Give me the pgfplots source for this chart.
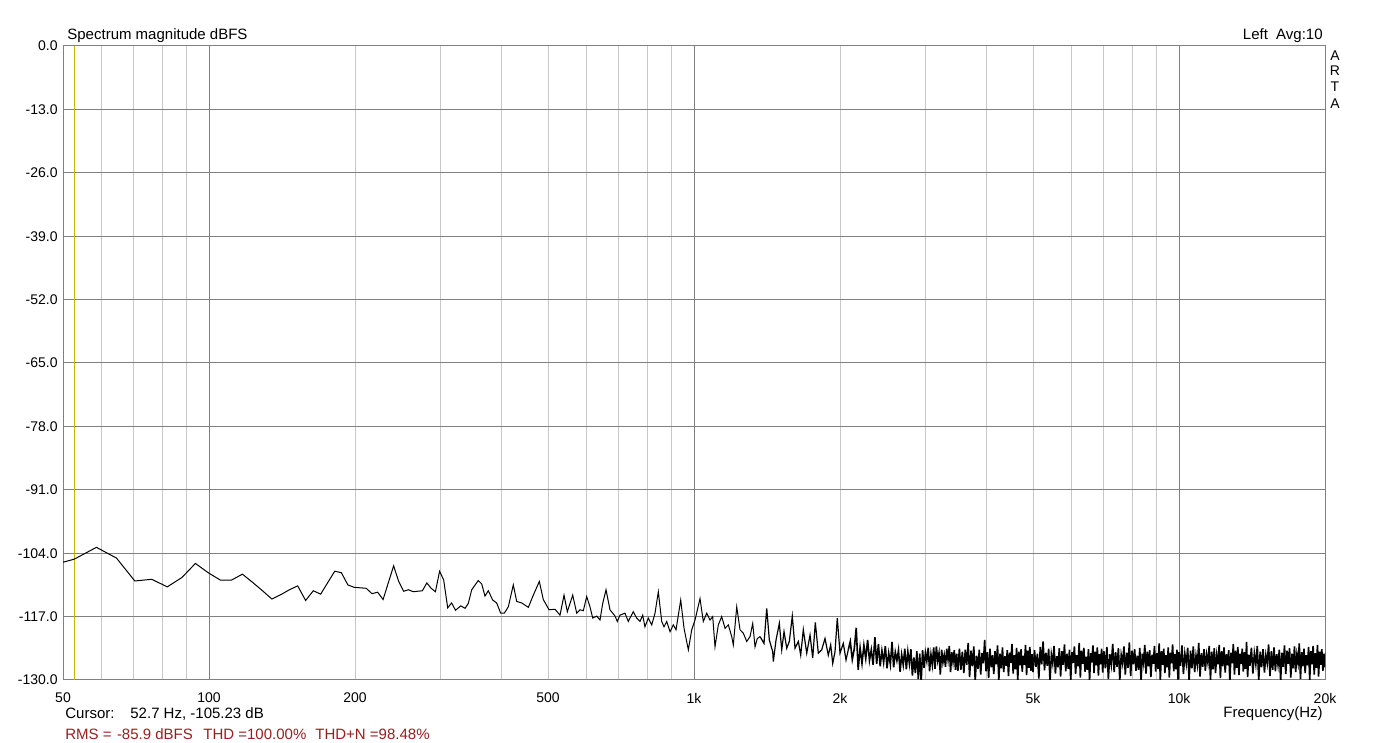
\documentclass[border=0pt]{standalone}
\usepackage{fontspec}
\setmainfont{Liberation Sans}
\usepackage{pgfplots}
\pgfplotsset{compat=1.18}
\definecolor{majgrid}{RGB}{128,128,128}
\definecolor{mingrid}{RGB}{200,200,200}
\definecolor{cursorc}{RGB}{200,185,0}
\definecolor{rmsred}{RGB}{155,30,30}
\begin{document}
\begin{tikzpicture}
\useasboundingbox (0,0) rectangle (694pt,371.5pt);
\begin{axis}[
  at={(31.5pt,31.5pt)}, anchor=south west,
  width=631pt, height=317pt, scale only axis,
  xmode=log, xmin=50, xmax=20000, ymin=-130, ymax=0,
  xtick={100,1000,10000},
  xticklabels={100,1k,10k},
  extra x ticks={50,200,500,2000,5000,20000},
  extra x tick labels={50,200,500,2k,5k,20k},
  extra x tick style={grid=none},
  minor xtick={60,70,80,90,200,300,400,500,600,700,800,900,2000,3000,4000,5000,6000,7000,8000,9000},
  ytick={-130,-117,-104,-91,-78,-65,-52,-39,-26,-13,0},
  yticklabels={-130.0,-117.0,-104.0,-91.0,-78.0,-65.0,-52.0,-39.0,-26.0,-13.0,0.0},
  xmajorgrids, xminorgrids, ymajorgrids,
  major grid style={draw=majgrid, line width=0.5pt},
  minor grid style={draw=mingrid, line width=0.5pt},
  axis line style={draw=majgrid, line width=0.5pt},
  tick style={draw=none},
  major tick length=0pt, minor tick length=0pt,
  every tick label/.append style={font=\fontsize{7pt}{8pt}\selectfont},
  yticklabel style={inner sep=0pt, anchor=east, xshift=-2.5pt},
  xticklabel style={inner sep=0pt, anchor=north, yshift=-6.35pt},
]
\addplot[color=cursorc, line width=0.5pt, forget plot] coordinates {(52.7,0) (52.7,-130)};
\addplot[black, line width=0.5pt, mark=none] coordinates {
(46.875,-106.6) (52.734,-105.23) (58.594,-102.8) (64.453,-105.0) (70.313,-109.7) (76.172,-109.35)
(82.031,-110.9) (87.891,-109.0) (93.75,-106.1) (99.609,-108.0) (105.469,-109.5) (111.328,-109.5)
(117.188,-108.3) (123.047,-110.0) (128.906,-111.7) (134.766,-113.4) (140.625,-112.5) (146.484,-111.5)
(152.344,-110.7) (158.203,-113.7) (164.063,-111.7) (169.922,-112.4) (175.781,-110.0) (181.641,-107.7)
(187.5,-108.0) (193.359,-110.5) (199.219,-111.0) (205.078,-111.1) (210.938,-111.2) (216.797,-112.3)
(222.656,-112.0) (228.516,-113.5) (234.375,-110.0) (240.234,-106.6) (246.094,-109.8) (251.953,-111.8)
(257.813,-111.5) (263.672,-111.9) (269.531,-111.8) (275.391,-111.7) (281.25,-110.1) (287.109,-111.2)
(292.969,-111.9) (298.828,-107.7) (304.688,-109.5) (310.547,-115.2) (316.406,-114.2) (322.266,-115.7)
(330.4,-114.8) (337.2,-115.3) (342.5,-114.3) (348.1,-111.5) (359.1,-109.6) (365.0,-110.3)
(370.7,-112.8) (376.6,-111.7) (384.5,-113.6) (391.9,-114.2) (399.4,-116.3) (406.3,-116.3)
(414.1,-115.0) (424.0,-110.5) (431.0,-113.9) (441.3,-114.2) (455.4,-115.1) (466.3,-112.6)
(479.8,-109.8) (488.9,-113.5) (502.4,-115.6) (516.9,-115.5)
(529.3,-116.7) (539.5,-112.6) (548.0,-116.0) (562.2,-112.6) (573.0,-116.3) (582.1,-115.6)
(591.2,-115.8) (600.8,-112.9) (610.3,-115.0) (618.2,-117.3) (630.1,-116.9) (640.0,-117.7)
(648.3,-114.3) (658.5,-111.5) (671.1,-115.6) (687.3,-116.9) (694.7,-118.0) (703.7,-116.7)
(720.6,-116.3) (732.0,-118.0) (749.5,-116.0) (761.7,-117.3) (773.8,-118.0) (783.7,-116.7)
(792.3,-119.1) (804.9,-117.3) (818.1,-118.7) (831.0,-116.3) (844.1,-111.9) (857.8,-118.0)
(867.2,-119.1) (878.4,-118.0) (892.3,-120.1) (906.4,-118.7) (918.1,-119.7) (938.8,-113.6)
(953.7,-119.4) (973.4,-123.8) (989.2,-119.7) (1004.8,-117.7) (1028.9,-113.3) (1045.1,-118.0)
(1062.2,-116.3) (1078.9,-117.7) (1092.8,-117.0) (1104.8,-123.2) (1122.3,-118.7) (1140.5,-117.0)
(1158.6,-119.4) (1176.8,-118.7) (1196.0,-121.1) (1205.1,-122.8) (1224.7,-115.0) (1244.1,-119.7)
(1263.7,-120.4) (1284.3,-122.1) (1304.6,-121.1) (1321.4,-118.4) (1335.9,-123.2) (1350.6,-121.5)
(1368.0,-121.1)
};
\addplot[black, line width=0.6pt, mark=none] coordinates {
(1368.0,-121.1)
(1394.2,-122.5) (1412.3,-115.3) (1429.8,-121.8) (1453.1,-124.2) (1457.1,-126.2) (1476.0,-121.8)
(1499.3,-118.4) (1516.5,-123.8) (1533.2,-120.1) (1553.0,-123.5) (1572.2,-122.1) (1594.6,-116.9)
(1615.4,-123.5) (1640.9,-122.1) (1659.6,-124.9) (1680.2,-119.7) (1707.6,-124.5) (1734.6,-120.8)
(1757.0,-125.5) (1778.8,-118.2) (1804.4,-124.5) (1833.8,-123.8) (1862.6,-121.5) (1892.1,-124.9)
(1913.7,-122.8) (1932.0,-126.6) (1953.2,-124.2) (1974.6,-117.3) (2000,-124.5) (2031.6,-122.5)
(2057.8,-125.9) (2080.0,-123.8)
};
\addplot[black, line width=0.8pt, mark=none] coordinates {
(2080.0,-123.8)
(2100,-122.1) (2120,-125.8) (2140,-123.6) (2160,-119.3) (2180,-127.9) (2200,-123.4) (2220,-126.6)
(2240,-122.9) (2260,-125.6) (2280,-121.8) (2300,-126.0) (2320,-123.8) (2340,-126.9) (2360,-121.2)
(2380,-126.7) (2400,-122.6) (2420,-127.2) (2440,-124.0) (2460,-126.4) (2480,-123.0) (2500,-127.6)
(2520,-124.5) (2540,-126.8) (2560,-122.2) (2580,-127.4) (2600,-124.3) (2620,-126.0) (2640,-123.9)
(2660,-128.3) (2680,-124.8) (2700,-126.9) (2720,-123.6) (2740,-127.8) (2760,-124.2) (2780,-126.7)
(2800,-123.7) (2820,-129.1) (2840,-125.4) (2860,-128.6) (2880,-124.1) (2900,-129.8) (2920,-124.6)
(2940,-130.4) (2960,-123.9) (2980,-127.5) (3000,-124.4) (3020,-126.1) (3040,-123.4) (3060,-128.2)
(3080,-124.8) (3100,-126.9) (3120,-123.3) (3140,-127.7) (3160,-123.1) (3180,-126.0) (3200,-124.5)
(3220,-128.9) (3240,-123.8) (3260,-126.4) (3280,-124.9) (3300,-127.3) (3320,-123.6) (3340,-125.8)
(3360,-123.0) (3380,-128.4) (3400,-124.3) (3420,-126.3) (3440,-123.9) (3460,-127.9) (3480,-124.6)
(3500,-128.1)
(3525,-123.6) (3550,-127.9) (3575,-124.2) (3600,-128.6) (3625,-123.8) (3650,-126.9) (3675,-122.4)
(3700,-129.4) (3725,-124.0) (3750,-127.2) (3775,-123.1) (3800,-130.2) (3825,-125.0) (3850,-127.7)
(3875,-123.8) (3900,-128.9) (3925,-124.5) (3950,-126.6) (3975,-121.8) (4000,-128.2) (4025,-124.3)
(4050,-129.6) (4075,-123.6) (4100,-127.4) (4125,-124.9) (4150,-128.8) (4175,-124.1) (4200,-126.8)
(4225,-122.9) (4250,-130.2) (4275,-124.6) (4300,-127.6) (4325,-123.3) (4350,-128.4) (4375,-125.1)
(4400,-127.1) (4425,-123.9) (4450,-129.2) (4475,-124.4) (4500,-126.5) (4525,-122.6) (4550,-128.7)
(4575,-124.9) (4600,-127.8) (4625,-123.4) (4650,-130.1) (4675,-124.2) (4700,-127.0) (4725,-123.7)
(4750,-128.3) (4775,-125.0) (4800,-126.9) (4825,-122.8) (4850,-129.0) (4875,-124.0) (4900,-127.5)
(4925,-123.2) (4950,-128.1) (4975,-124.7)
(5000,-128.4) (5035,-123.9) (5070,-127.3) (5105,-124.6) (5140,-129.7) (5175,-123.2) (5210,-126.8)
(5245,-122.1) (5280,-128.0) (5315,-124.4) (5350,-127.1) (5385,-123.6) (5420,-130.3) (5455,-124.8)
(5490,-126.6) (5525,-123.0) (5560,-128.7) (5595,-125.1) (5630,-127.4) (5665,-123.5) (5700,-129.3)
(5735,-124.1) (5770,-126.9) (5805,-122.7) (5840,-128.2) (5875,-124.6) (5910,-127.7) (5945,-123.8)
(5980,-130.0) (6015,-124.3) (6050,-126.5) (6085,-123.1) (6120,-128.8) (6155,-124.9) (6190,-127.2)
(6225,-122.4) (6260,-129.5) (6295,-124.0) (6330,-126.7) (6365,-123.4) (6400,-128.3) (6435,-125.2)
(6470,-127.9) (6505,-123.7) (6540,-130.2) (6575,-124.5) (6610,-126.4) (6645,-122.9) (6680,-128.6)
(6715,-124.2) (6750,-127.0) (6785,-123.3) (6820,-129.1) (6855,-124.7) (6890,-126.8) (6925,-123.6)
(6960,-128.5)
(7000,-124.1) (7050,-127.6) (7100,-123.2) (7150,-129.8) (7200,-124.7) (7250,-126.9) (7300,-122.6)
(7350,-128.4) (7400,-124.3) (7450,-127.3) (7500,-123.5) (7550,-130.1) (7600,-124.9) (7650,-126.6)
(7700,-123.1) (7750,-128.9) (7800,-124.4) (7850,-127.5) (7900,-122.3) (7950,-129.2) (8000,-124.0)
(8050,-126.8) (8100,-123.7) (8150,-128.1) (8200,-125.0) (8250,-127.9) (8300,-123.4) (8350,-130.3)
(8400,-124.6) (8450,-126.5) (8500,-122.8) (8550,-128.7) (8600,-124.2) (8650,-127.2) (8700,-123.9)
(8750,-129.4) (8800,-124.8) (8850,-126.7) (8900,-123.0) (8950,-128.3) (9000,-124.5) (9050,-127.7)
(9100,-122.5) (9150,-130.0) (9200,-124.1) (9250,-126.9) (9300,-123.6) (9350,-128.6) (9400,-124.9)
(9450,-127.4) (9500,-123.3) (9550,-129.5) (9600,-124.4) (9650,-126.6) (9700,-122.7) (9750,-128.2)
(9800,-124.7) (9850,-127.8) (9900,-123.8) (9950,-129.9)
(10000,-124.3) (10070,-127.1) (10140,-122.9) (10210,-128.8) (10280,-124.6) (10350,-126.7) (10420,-123.4)
(10490,-130.2) (10560,-124.0) (10630,-127.6) (10700,-123.1) (10770,-128.4) (10840,-125.0) (10910,-126.9)
(10980,-122.4) (11050,-129.3) (11120,-124.5) (11190,-127.3) (11260,-123.7) (11330,-128.1) (11400,-124.8)
(11470,-126.5) (11540,-123.0) (11610,-130.0) (11680,-124.2) (11750,-127.8) (11820,-123.5) (11890,-128.6)
(11960,-124.9) (12030,-126.8) (12100,-122.8) (12170,-129.6) (12240,-124.1) (12310,-127.2) (12380,-123.3)
(12450,-128.5) (12520,-124.7) (12590,-127.0) (12660,-123.9) (12730,-130.3) (12800,-124.4) (12870,-126.6)
(12940,-122.6) (13010,-128.9) (13080,-124.0) (13150,-127.5) (13220,-123.2) (13290,-129.0) (13360,-124.6)
(13430,-126.7) (13500,-123.6) (13570,-128.3) (13640,-124.3) (13710,-127.7) (13780,-122.2) (13850,-129.4)
(13920,-124.8)
(14000,-127.1) (14100,-123.4) (14200,-128.7) (14300,-124.5) (14400,-126.8) (14500,-123.0) (14600,-130.1)
(14700,-124.2) (14800,-127.4) (14900,-123.7) (15000,-128.5) (15100,-124.9) (15200,-126.6) (15300,-122.7)
(15400,-129.2) (15500,-124.1) (15600,-127.9) (15700,-123.3) (15800,-128.2) (15900,-124.7) (16000,-126.9)
(16100,-123.8) (16200,-130.2) (16300,-124.4) (16400,-127.3) (16500,-122.9) (16600,-128.8) (16700,-124.0)
(16800,-126.7) (16900,-123.5) (17000,-129.5) (17100,-124.6) (17200,-127.6) (17300,-123.1) (17400,-128.4)
(17500,-124.8) (17600,-126.5) (17700,-122.5) (17800,-129.8) (17900,-124.3) (18000,-127.2) (18100,-123.6)
(18200,-128.6) (18300,-124.9) (18400,-127.0) (18500,-123.2) (18600,-130.0) (18700,-124.1) (18800,-126.8)
(18900,-123.0) (19000,-128.9) (19100,-124.5) (19200,-127.5) (19300,-122.8) (19400,-129.3) (19500,-124.2)
(19600,-126.9) (19700,-123.7) (19800,-128.1) (19900,-124.6) (20000,-127.4) (20100,-124.0)
};
\end{axis}
\begin{scope}[every node/.style={inner sep=0pt, font=\fontsize{7.5pt}{9pt}\selectfont}]
\node[anchor=base west] at (33.5pt,351.75pt) {Spectrum magnitude dBFS};
\node[anchor=base east] at (661.5pt,351.75pt) {Left\hspace{0.55em}Avg:10};
\node[anchor=base west] at (32.5pt,12.4pt) {Cursor:};
\node[anchor=base west] at (65pt,12.4pt) {52.7 Hz, -105.23 dB};
\node[anchor=base east] at (661.5pt,12.6pt) {Frequency(Hz)};
\node[anchor=base west, text=rmsred] at (32.5pt,1.9pt) {RMS =};
\node[anchor=base west, text=rmsred] at (58.3pt,1.9pt) {-85.9 dBFS};
\node[anchor=base west, text=rmsred] at (101.5pt,1.9pt) {THD =100.00\%};
\node[anchor=base west, text=rmsred] at (157.5pt,1.9pt) {THD+N =98.48\%};
\end{scope}
\begin{scope}[every node/.style={inner sep=0pt, font=\fontsize{7pt}{8pt}\selectfont}]
\node at (667.5pt,343.5pt) {A};
\node at (667.5pt,336pt) {R};
\node at (667.5pt,328pt) {T};
\node at (667.5pt,319.5pt) {A};
\end{scope}
\end{tikzpicture}
\end{document}
